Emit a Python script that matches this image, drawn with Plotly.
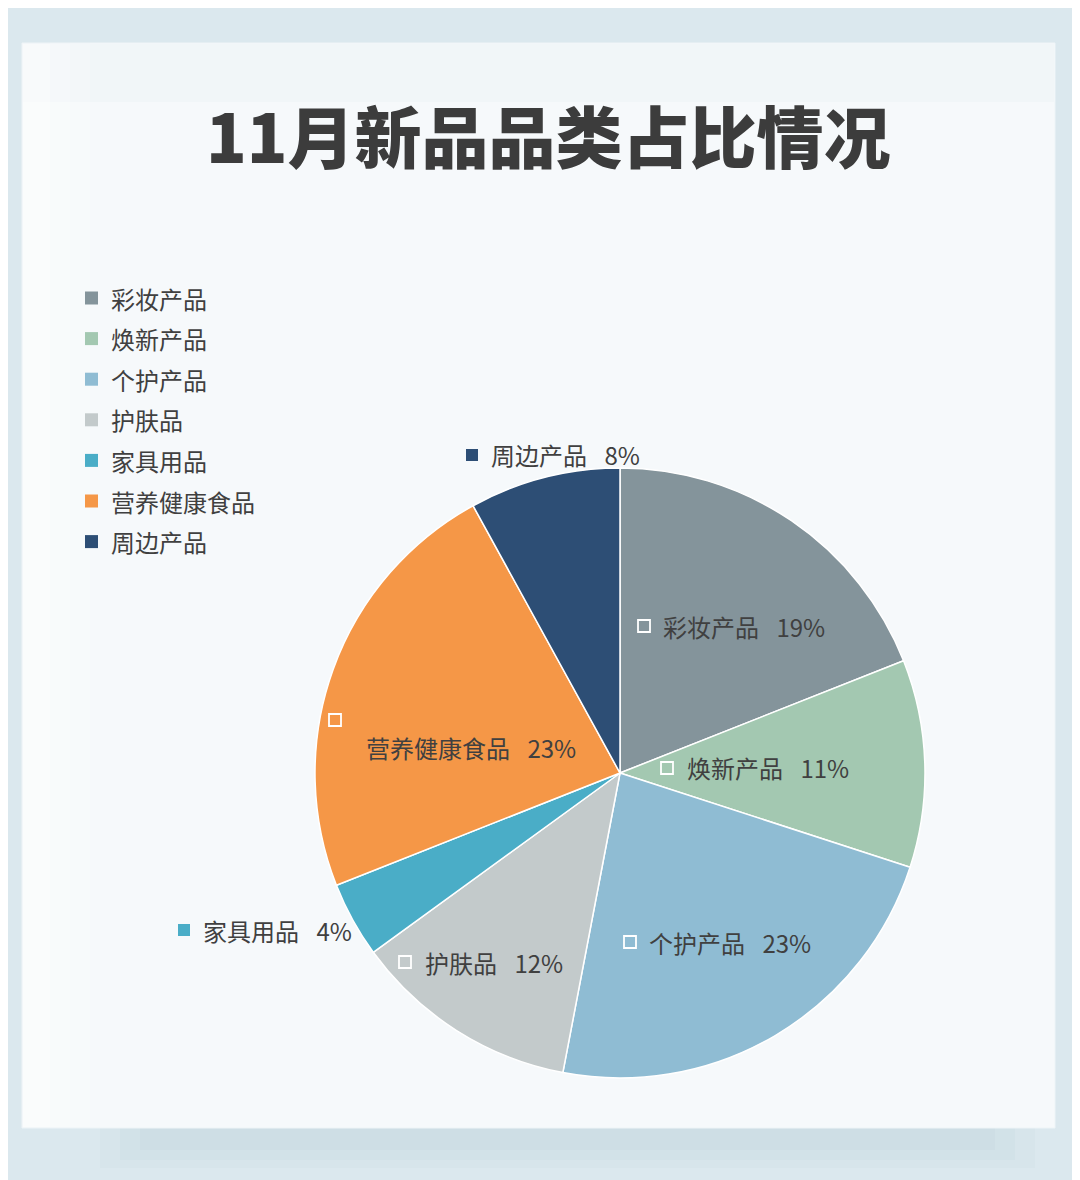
import plotly.graph_objects as go

# ── data ───────────────────────────────────────────────────────────────────────
categories = ["彩妆产品", "焕新产品", "个护产品", "护肤品", "家具用品", "营养健康食品", "周边产品"]
shares     = [19, 11, 23, 12, 4, 23, 8]
colors     = ["#84949b", "#a3c8b1", "#8fbcd3", "#c3cacb", "#4aadc7", "#f59747", "#2d4e75"]

TITLE = "11月新品品类占比情况"

# ── layout helpers (pixel -> paper) ────────────────────────────────────────────
# page body has an 8px margin, so shift everything back by that much
W, H, OFF = 1080, 1180, 8
def px(x): return (x - OFF) / W
def py(y): return 1 - (y - OFF) / H

FONT = "Noto Sans CJK SC"
TXT  = "#404040"

# pie geometry: centre (620, 773), radius 305 px
CX, CY, R = 620, 773, 305

fig = go.Figure(go.Pie(
    labels=categories,
    values=shares,
    sort=False,
    direction="clockwise",
    rotation=0,
    marker=dict(colors=colors, line=dict(color="white", width=1.5)),
    textinfo="none",
    hoverinfo="label+percent",
    showlegend=False,
    domain=dict(x=[px(CX - R), px(CX + R)], y=[py(CY + R), py(CY - R)]),
))

shapes = []
annotations = []

# soft shadow under the card
for x0, x1, y1, a in [(100, 1035, 1168, 0.2), (120, 1015, 1160, 0.3), (140, 995, 1150, 0.4)]:
    shapes.append(dict(type="rect", xref="paper", yref="paper", x0=px(x0), x1=px(x1),
                       y0=py(y1), y1=py(1128), fillcolor=f"rgba(200,218,225,{a})",
                       line_width=0, layer="below"))
# card + slightly tinted top band
shapes += [
    dict(type="rect", xref="paper", yref="paper", x0=px(22), x1=px(1055), y0=py(1128), y1=py(43),
         fillcolor="#f6f9fb", line=dict(color="#eef4f7", width=1), layer="below"),
    dict(type="rect", xref="paper", yref="paper", x0=px(23), x1=px(1054), y0=py(102), y1=py(44),
         fillcolor="#f1f6f8", line_width=0, layer="below"),
]
# whitish fade along the card's left edge
for x1, a in [(90, 0.15), (70, 0.2), (50, 0.3)]:
    shapes.append(dict(type="rect", xref="paper", yref="paper", x0=px(23), x1=px(x1),
                       y0=py(1127), y1=py(44), fillcolor=f"rgba(255,255,255,{a})",
                       line_width=0, layer="below"))

# title
annotations.append(dict(
    text=TITLE, x=px(548), y=py(134), xref="paper", yref="paper",
    xanchor="center", yanchor="middle", showarrow=False,
    font=dict(family=FONT, size=67, color="#3c3c3c", weight=900),
))

# legend (top-left), one row per category
LEG_X, LEG_Y0, LEG_DY, SQ = 85, 298, 40.6, 13
for i, (cat, col) in enumerate(zip(categories, colors)):
    y = LEG_Y0 + i * LEG_DY
    shapes.append(dict(type="rect", xref="paper", yref="paper",
                       x0=px(LEG_X), x1=px(LEG_X + SQ), y0=py(y + SQ / 2), y1=py(y - SQ / 2),
                       fillcolor=col, line_width=0))
    annotations.append(dict(
        text=cat, x=px(LEG_X + 24), y=py(y), xref="paper", yref="paper",
        xanchor="left", yanchor="middle", showarrow=False,
        font=dict(family=FONT, size=24, color=TXT),
    ))

# data labels: (marker x, marker y, text x, text y, outside?)
label_pos = [
    (644, 626, 661, 626, False),
    (667, 768, 685, 768, False),
    (630, 942, 647, 942, False),
    (405, 962, 423, 962, False),
    (184, 930, 201, 930, True),
    (335, 720, 364, 747, False),
    (472, 455, 489, 455, True),
]
for (mx, my, tx, ty, outside), cat, val, col in zip(label_pos, categories, shares, colors):
    if outside:
        shapes.append(dict(type="rect", xref="paper", yref="paper",
                           x0=px(mx - 6), x1=px(mx + 6), y0=py(my + 6), y1=py(my - 6),
                           fillcolor=col, line_width=0))
    else:
        shapes.append(dict(type="rect", xref="paper", yref="paper",
                           x0=px(mx - 6), x1=px(mx + 6), y0=py(my + 6), y1=py(my - 6),
                           fillcolor="rgba(0,0,0,0)", line=dict(color="white", width=1.8)))
    annotations.append(dict(
        text=f"{cat}\u2002 {val}%", x=px(tx), y=py(ty), xref="paper", yref="paper",
        xanchor="left", yanchor="middle", showarrow=False,
        font=dict(family=FONT, size=24, color=TXT),
    ))

fig.update_layout(
    width=W, height=H,
    margin=dict(l=0, r=0, t=0, b=0),
    paper_bgcolor="#dbe8ee",
    plot_bgcolor="#dbe8ee",
    shapes=shapes,
    annotations=annotations,
)

fig.write_html("out.html")
